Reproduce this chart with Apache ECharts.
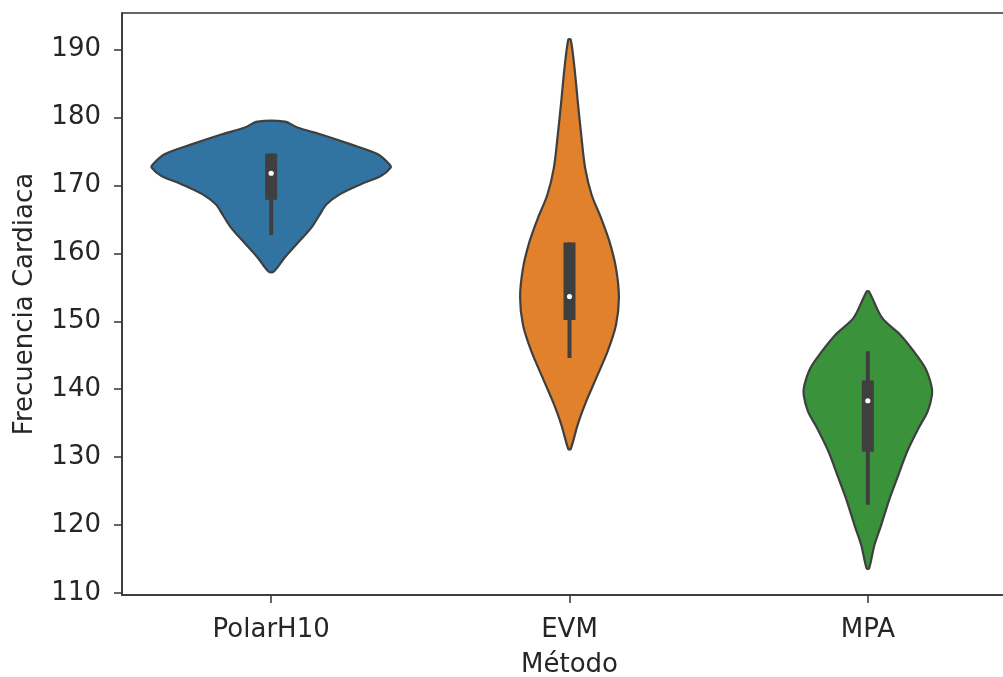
<!DOCTYPE html>
<html>
<head>
<meta charset="utf-8">
<script src="https://cdn.jsdelivr.net/npm/echarts@6/dist/echarts.min.js"></script>
<style>
html,body{margin:0;padding:0;background:#fff;overflow:hidden;width:1003px;height:677px;}
#chart{width:1024px;height:677px;}
</style>
</head>
<body>
<div id="chart"></div>
<script>
// ---- data ----
const categories = ['PolarH10', 'EVM', 'MPA'];
const yTicks = [110, 120, 130, 140, 150, 160, 170, 180, 190];

// density profiles: value levels (top to bottom) and relative density (1 = widest)
const polarLevels  = [179.4, 178.5, 177.5, 176.05, 174.6, 173.1, 172.6, 171.4, 170.2, 168.7, 167.2, 165.7, 163.8, 161.3, 159.4, 157.3];
const polarDensity = [0.114, 0.226, 0.418, 0.668, 0.894, 0.992, 1.0, 0.919, 0.752, 0.574, 0.462, 0.407, 0.337, 0.211, 0.114, 0.02];

const evmLevels  = [191.5, 187.3, 182.4, 177.5, 172.6, 168.6, 165.2, 161.8, 157.8, 153.5, 149.5, 145.6, 141.6, 138.2, 134.8, 131.2];
const evmDensity = [0.01, 0.042, 0.069, 0.098, 0.131, 0.186, 0.265, 0.334, 0.390, 0.414, 0.390, 0.320, 0.223, 0.140, 0.069, 0.01];

const mpaLevels  = [154.4, 150.5, 148.0, 145.6, 143.1, 140.6, 139.2, 136.7, 134.3, 130.8, 126.9, 123.5, 120.0, 117.1, 113.6];
const mpaDensity = [0.01, 0.120, 0.273, 0.384, 0.482, 0.532, 0.538, 0.501, 0.426, 0.329, 0.246, 0.175, 0.112, 0.056, 0.01];

// box stats: [whiskerLow, q1, median, q3, whiskerHigh]
const polarBox = [162.7, 167.9, 171.8, 174.7, 174.7];
const evmBox   = [144.6, 150.2, 153.65, 161.6, 161.6];
const mpaBox   = [123.0, 130.8, 138.3, 141.3, 145.6];

const colors = ['#3274a1', '#e1812c', '#3a923a'];
const edgeColor = '#3f3f3f';

const profiles = [
  {levels: polarLevels, density: polarDensity, box: polarBox},
  {levels: evmLevels, density: evmDensity, box: evmBox},
  {levels: mpaLevels, density: mpaDensity, box: mpaBox}
];

function renderViolin(params, api) {
  const idx = api.value(0);
  const p = profiles[idx];
  const band = api.size([1, 0])[0];
  const maxHalf = band * 0.4;
  const left = [], right = [];
  for (let j = 0; j < p.levels.length; j++) {
    const c = api.coord([idx, p.levels[j]]);
    const hw = p.density[j] * maxHalf;
    left.push([c[0] - hw, c[1]]);
    right.push([c[0] + hw, c[1]]);
  }
  const pts = left.concat(right.reverse());
  const lo = api.coord([idx, p.box[0]]);
  const q1 = api.coord([idx, p.box[1]]);
  const med = api.coord([idx, p.box[2]]);
  const q3 = api.coord([idx, p.box[3]]);
  const hi = api.coord([idx, p.box[4]]);
  const cx = lo[0];
  const boxW = 12, whW = 4;
  return {
    type: 'group',
    children: [
      {type: 'polygon', shape: {points: pts, smooth: 0.3},
       style: {fill: colors[idx], stroke: edgeColor, lineWidth: 2.2}},
      {type: 'rect', shape: {x: cx - whW / 2, y: hi[1], width: whW, height: lo[1] - hi[1]},
       style: {fill: edgeColor}},
      {type: 'rect', shape: {x: cx - boxW / 2, y: q3[1], width: boxW, height: q1[1] - q3[1]},
       style: {fill: edgeColor}},
      {type: 'circle', shape: {cx: cx, cy: med[1], r: 2.6},
       style: {fill: '#ffffff'}}
    ]
  };
}

const chart = echarts.init(document.getElementById('chart'), null, {renderer: 'canvas', width: 1024, height: 677});
chart.setOption({
  animation: false,
  backgroundColor: '#ffffff',
  grid: {left: 122, top: 13, right: 7, bottom: 82, show: true, containLabel: false,
         outerBoundsMode: 'none',
         borderColor: '#333333', borderWidth: 1.5, backgroundColor: 'transparent'},
  xAxis: {
    type: 'category', data: categories, boundaryGap: true,
    name: 'Método', nameLocation: 'middle', nameGap: 57,
    nameTextStyle: {fontFamily: 'DejaVu Sans', fontSize: 26, color: '#262626'},
    axisLine: {show: true, lineStyle: {color: '#333333', width: 1.5}},
    axisTick: {show: true, alignWithLabel: true, length: 8, lineStyle: {color: '#333333', width: 1.5}},
    axisLabel: {fontFamily: 'DejaVu Sans', fontSize: 26, color: '#262626', margin: 22},
    splitLine: {show: false}
  },
  yAxis: {
    type: 'value', min: 109.7, max: 195.4,
    name: 'Frecuencia Cardiaca', nameLocation: 'middle', nameGap: 84, nameRotate: 90,
    nameTextStyle: {fontFamily: 'DejaVu Sans', fontSize: 26, color: '#262626'},
    axisLine: {show: true, lineStyle: {color: '#333333', width: 1.5}},
    axisTick: {show: true, length: 8, customValues: yTicks, lineStyle: {color: '#333333', width: 1.5}},
    axisLabel: {fontFamily: 'DejaVu Sans', fontSize: 26, color: '#262626', margin: 21, customValues: yTicks},
    splitLine: {show: false}
  },
  series: [{
    type: 'custom',
    renderItem: renderViolin,
    encode: {x: 0, y: 1},
    data: categories.map((c, i) => [i, profiles[i].box[2]])
  }]
});
</script>
</body>
</html>
